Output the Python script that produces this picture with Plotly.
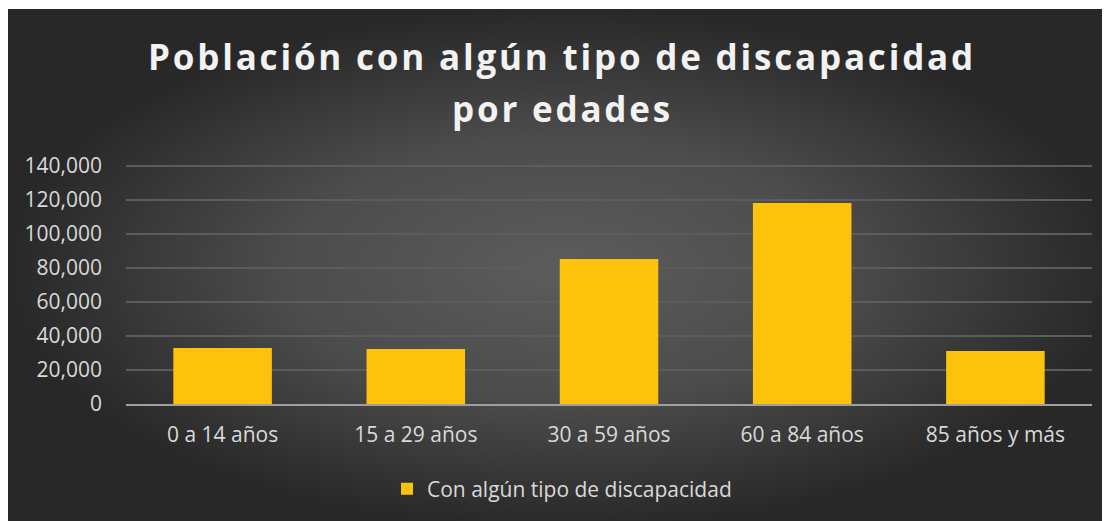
import plotly.graph_objects as go

grupos = ["0 a 14 años", "15 a 29 años", "30 a 59 años", "60 a 84 años", "85 años y más"]
poblacion = [33000, 32400, 85300, 118300, 31200]
serie = "Con algún tipo de discapacidad"
titulo_1 = "Población con algún tipo de discapacidad"
titulo_2 = "por edades"

W, H = 1110, 521
# la página añade 8 px de margen al body: posiciones pensadas ya desplazadas
ymax = 140800
px_por_unidad = 238 / 140000
y_cero = 396
y_tope = y_cero - ymax * px_por_unidad

fig = go.Figure()

# fondo oscuro con degradado radial
fig.add_trace(go.Scatter(
    x=[0, 1, 1, 0, 0], y=[0, 0, 1, 1, 0],
    mode="lines", fill="toself", line=dict(width=0),
    fillgradient=dict(type="radial",
                      colorscale=[[0, "#5c5c5c"], [0.5, "#4c4c4c"], [1, "#282828"]]),
    hoverinfo="skip", showlegend=False,
    xaxis="x", yaxis="y"))

fig.add_trace(go.Bar(
    x=grupos, y=poblacion, name=serie,
    marker=dict(color="#FCC20C", line=dict(width=0)),
    width=0.51,
    xaxis="x2", yaxis="y2"))

fig.update_layout(
    width=W, height=H,
    margin=dict(l=0, r=0, t=0, b=0, autoexpand=False),
    paper_bgcolor="white",
    plot_bgcolor="rgba(0,0,0,0)",
    font=dict(family="Open Sans", color="#d9d9d9"),
    xaxis=dict(domain=[0, 1], range=[0, 1], visible=False, fixedrange=True),
    yaxis=dict(domain=[0, 1 - 1 / H], range=[0, 1], visible=False, fixedrange=True),
    xaxis2=dict(domain=[118 / W, 1084 / W], anchor="y2", type="category",
                showgrid=False, showline=True, linecolor="#a0a0a0", linewidth=2,
                ticks="", ticklabelstandoff=11, automargin=False,
                tickfont=dict(size=21, color="#d9d9d9")),
    yaxis2=dict(domain=[(H - y_cero) / H, (H - y_tope) / H], anchor="x2",
                range=[0, ymax], tickvals=[0, 20000, 40000, 60000, 80000, 100000, 120000, 140000],
                tickformat=",",
                showgrid=True, gridcolor="#5c5c5c", gridwidth=1.5,
                zeroline=False, showline=False, ticks="",
                ticklabelstandoff=23, automargin=False,
                tickfont=dict(size=21, color="#d9d9d9")),
    annotations=[
        dict(text='<span style="letter-spacing:2.8px">' + titulo_1 + '</span>',
             x=554 / W, y=1 - 49 / H, xref="paper", yref="paper",
             xanchor="center", yanchor="middle", showarrow=False,
             font=dict(family="Open Sans", size=35, color="#f2f2f2", weight="bold")),
        dict(text='<span style="letter-spacing:2.8px">' + titulo_2 + '</span>',
             x=554 / W, y=1 - 100 / H, xref="paper", yref="paper",
             xanchor="center", yanchor="middle", showarrow=False,
             font=dict(family="Open Sans", size=35, color="#f2f2f2", weight="bold")),
    ],
    legend=dict(orientation="h", x=554 / W, xanchor="center", y=1 - 481 / H,
                yanchor="middle", font=dict(size=21, color="#d9d9d9"),
                itemwidth=30, bgcolor="rgba(0,0,0,0)"),
    showlegend=True,
    bargap=0.49,
)

fig.write_html("out.html")
